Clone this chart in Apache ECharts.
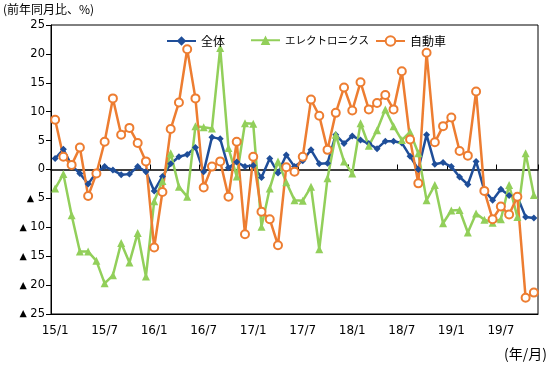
<!DOCTYPE html>
<html>
<head>
<meta charset="utf-8">
<script src="https://cdn.jsdelivr.net/npm/echarts@6/dist/echarts.min.js"></script>
<style>html,body{margin:0;padding:0;background:#fff;}#c{width:559px;height:370px;}</style>
</head>
<body>
<div id="c"></div>
<script>
var categories = ['15/1','15/2','15/3','15/4','15/5','15/6','15/7','15/8','15/9','15/10','15/11','15/12',
'16/1','16/2','16/3','16/4','16/5','16/6','16/7','16/8','16/9','16/10','16/11','16/12',
'17/1','17/2','17/3','17/4','17/5','17/6','17/7','17/8','17/9','17/10','17/11','17/12',
'18/1','18/2','18/3','18/4','18/5','18/6','18/7','18/8','18/9','18/10','18/11','18/12',
'19/1','19/2','19/3','19/4','19/5','19/6','19/7','19/8','19/9','19/10','19/11'];
var seriesNames = ['全体','エレクトロニクス','自動車'];
var total = [1.9,3.5,0.7,-0.7,-2.5,-0.5,0.5,-0.1,-0.9,-0.8,0.5,-0.4,
-3.7,-1.2,1.0,2.2,2.6,3.8,-0.4,5.6,5.3,0.3,1.3,0.5,
0.7,-1.4,1.9,-0.6,2.5,0.5,1.5,3.4,1.0,1.1,6.0,4.5,
5.8,5.1,4.5,3.6,4.9,4.9,4.6,2.3,0.0,6.0,0.9,1.2,
0.5,-1.3,-2.6,1.4,-3.6,-5.3,-3.4,-4.5,-4.7,-8.2,-8.4];
var electronics = [-3.3,-0.8,-7.9,-14.2,-14.2,-15.8,-19.7,-18.3,-12.7,-16.1,-11.0,-18.5,
-5.5,-2.0,2.8,-3.0,-4.7,7.5,7.3,7.1,21.0,3.7,-1.2,8.0,
7.9,-9.9,-3.3,1.4,-2.2,-5.3,-5.4,-3.0,-13.8,-1.5,6.0,1.4,
-0.7,8.0,4.1,6.8,10.4,7.5,5.1,6.5,2.8,-5.3,-2.7,-9.3,
-7.1,-7.0,-10.9,-7.6,-8.7,-9.2,-8.6,-2.7,-8.2,2.8,-4.4];
var autos = [8.6,2.2,0.8,3.8,-4.6,-0.7,4.8,12.3,6.0,7.2,4.6,1.4,
-13.5,-3.9,7.0,11.6,20.8,12.3,-3.1,0.5,1.4,-4.7,4.8,-11.2,
2.2,-7.3,-8.6,-13.1,0.4,-0.4,2.2,12.1,9.3,3.4,9.8,14.2,
10.2,15.1,10.4,11.5,12.9,10.4,17.0,5.2,-2.4,20.2,4.7,7.5,
9.0,3.2,2.4,13.5,-3.7,-8.6,-6.4,-7.8,-4.7,-22.2,-21.3];

var FONT = '"Noto Sans CJK JP", "Noto Sans", sans-serif';
var chart = echarts.init(document.getElementById('c'), null, {renderer:'canvas'});
var legendBase = {
  orient:'horizontal', top:30, itemWidth:29, itemHeight:12,
  textStyle:{fontFamily:FONT, fontSize:12, color:'#000'}
};
chart.setOption({
  animation:false,
  backgroundColor:'#fff',
  textStyle:{fontFamily:FONT},
  grid:{left:51, right:21, top:25, bottom:56, show:true, borderColor:'#000', borderWidth:1, backgroundColor:'transparent'},
  legend:[
    Object.assign({}, legendBase, {left:161, data:[seriesNames[0]]}),
    Object.assign({}, legendBase, {left:245, data:[seriesNames[1]], textStyle:{fontFamily:FONT, fontSize:10.5, color:'#000'}}),
    Object.assign({}, legendBase, {left:370, data:[seriesNames[2]]})
  ],
  graphic:[
    {type:'text', left:3, top:3, style:{text:'(前年同月比、%)', font:'12px "Noto Sans CJK JP"', fill:'#000'}},
    {type:'text', left:504, top:347, style:{text:'(年/月)', font:'14px "Noto Sans CJK JP"', fill:'#000'}}
  ],
  xAxis:[
    {type:'category', data:categories, boundaryGap:true, position:'bottom',
     axisLine:{onZero:false, lineStyle:{color:'#000', width:1}},
     axisTick:{show:false},
     axisLabel:{interval:5, margin:11, color:'#000', fontSize:12, fontFamily:'"DejaVu Sans", sans-serif'},
     splitLine:{show:false}},
    {type:'category', data:categories, boundaryGap:true, position:'bottom',
     axisLine:{onZero:true, lineStyle:{color:'#000', width:1.5}},
     axisTick:{show:true, inside:true, length:5, interval:5, lineStyle:{color:'#000', width:1}},
     axisLabel:{show:false, interval:5}, splitLine:{show:false}}
  ],
  yAxis:{type:'value', min:-25, max:25, interval:5,
    axisLine:{show:true, lineStyle:{color:'#000'}},
    axisTick:{show:true, length:5, lineStyle:{color:'#000'}},
    splitLine:{show:false},
    axisLabel:{margin:6, color:'#000', fontSize:11.5, fontFamily:'"DejaVu Sans", sans-serif',
      rich:{t:{fontSize:9.5, color:'#000', fontFamily:'"DejaVu Sans", sans-serif'}},
      formatter:function(v){return v<0 ? '{t|▲} '+(-v) : String(v);}}
  },
  series:[
    {name:seriesNames[0], type:'line', data:total, xAxisIndex:0, symbol:'diamond', symbolSize:7,
     showSymbol:true, showAllSymbol:true,
     lineStyle:{color:'#1F4E99', width:2.5}, itemStyle:{color:'#1F4E99'}},
    {name:seriesNames[1], type:'line', data:electronics, xAxisIndex:0, symbol:'triangle', symbolSize:8,
     showSymbol:true, showAllSymbol:true,
     lineStyle:{color:'#92CF5A', width:2.5}, itemStyle:{color:'#92CF5A'}},
    {name:seriesNames[2], type:'line', data:autos, xAxisIndex:0, symbol:'emptyCircle', symbolSize:8,
     showSymbol:true, showAllSymbol:true,
     lineStyle:{color:'#ED7D31', width:2.5}, itemStyle:{color:'#ED7D31', borderWidth:1.5}}
  ]
});
</script>
</body>
</html>
